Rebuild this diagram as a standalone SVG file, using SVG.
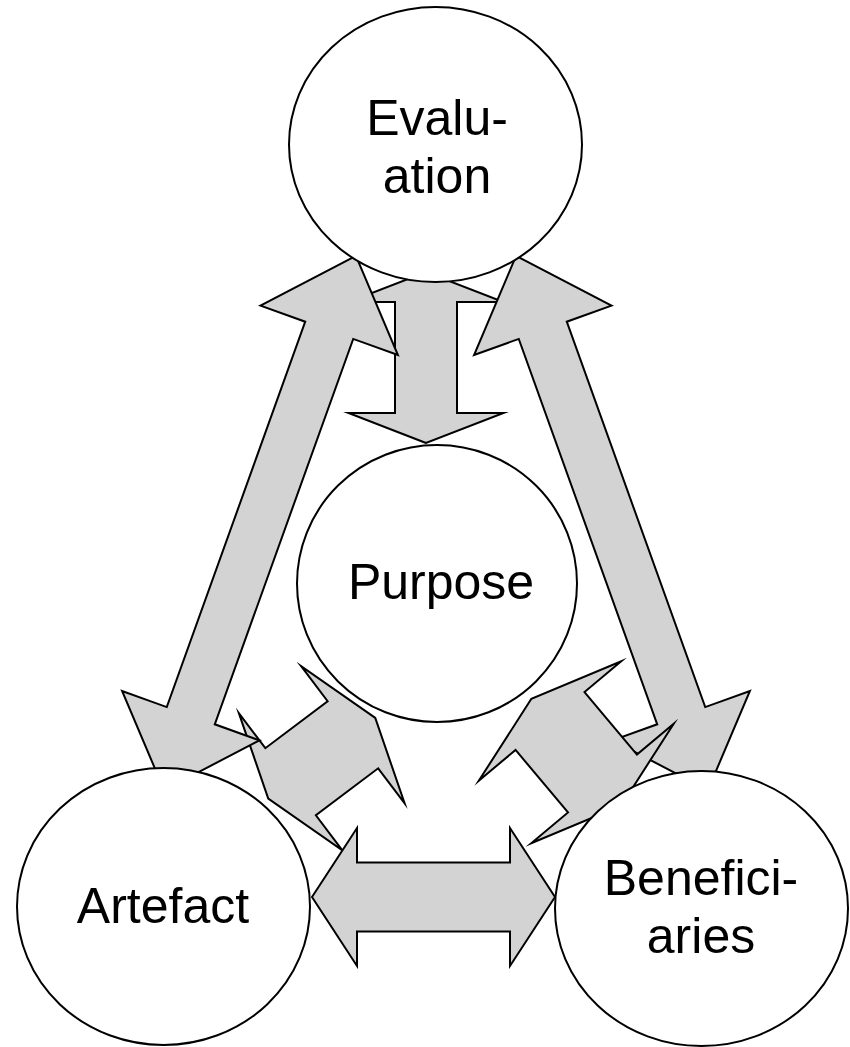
<svg xmlns="http://www.w3.org/2000/svg" width="850" height="1047" viewBox="0 0 850 1047">
<style>
.arr{fill:#d3d3d3;stroke:#000;stroke-width:2;stroke-linejoin:miter;stroke-miterlimit:20}
.node{fill:#fff;stroke:#000;stroke-width:2}
.lbl{font-family:"Liberation Sans",Arial,sans-serif;font-size:50px;fill:#000;text-anchor:middle}
</style>
<rect width="850" height="1047" fill="#fff"/>
<g id="connectors">
<polygon id="eval-purpose" class="arr" points="426,443 348.5,413 395,413 395,302 348.5,302 426,272 503.5,302 457,302 457,413 503.5,413"/>
<polygon id="artefact-purpose" class="arr" transform="translate(321.75,758.25) rotate(-37)" points="67,0 39,-86 39,-42 -39,-42 -39,-86 -67,0 -39,86 -39,42 39,42 39,86"/>
<polygon id="eval-artefact" class="arr" transform="translate(260,523) rotate(109.76)" points="283.75,0 204.75,-73 204.75,-25.5 -204.75,-25.5 -204.75,-73 -283.75,0 -204.75,73 -204.75,25.5 204.75,25.5 204.75,73"/>
<polygon id="eval-beneficiaries" class="arr" transform="translate(612,523) rotate(70.24)" points="283.75,0 204.75,-73 204.75,-25.5 -204.75,-25.5 -204.75,-73 -283.75,0 -204.75,73 -204.75,25.5 204.75,25.5 204.75,73"/>
<polygon id="beneficiaries-purpose" class="arr" transform="translate(576.25,752.25) rotate(-130)" points="69.8,0 40.8,-93 40.8,-45 -40.8,-45 -40.8,-93 -69.8,0 -40.8,93 -40.8,45 40.8,45 40.8,93"/>
<polygon id="artefact-beneficiaries" class="arr" points="312,897 357,828 357,862.5 510,862.5 510,828 555,897 510,966 510,931.5 357,931.5 357,966"/>
</g>
<g id="evaluation">
<ellipse class="node" cx="435.5" cy="144.5" rx="146.5" ry="137.5"/>
<text class="lbl" x="437" y="135">Evalu-</text>
<text class="lbl" x="437" y="193">ation</text>
</g>
<g id="purpose">
<ellipse class="node" cx="437" cy="583.5" rx="140" ry="138.5"/>
<text class="lbl" x="441" y="599">Purpose</text>
</g>
<g id="artefact">
<ellipse class="node" cx="163.5" cy="906.5" rx="146.5" ry="138.5"/>
<text class="lbl" x="163" y="923">Artefact</text>
</g>
<g id="beneficiaries">
<ellipse class="node" cx="701.5" cy="908.5" rx="146.5" ry="137.5"/>
<text class="lbl" x="701" y="895">Benefici-</text>
<text class="lbl" x="701" y="953">aries</text>
</g>
</svg>
